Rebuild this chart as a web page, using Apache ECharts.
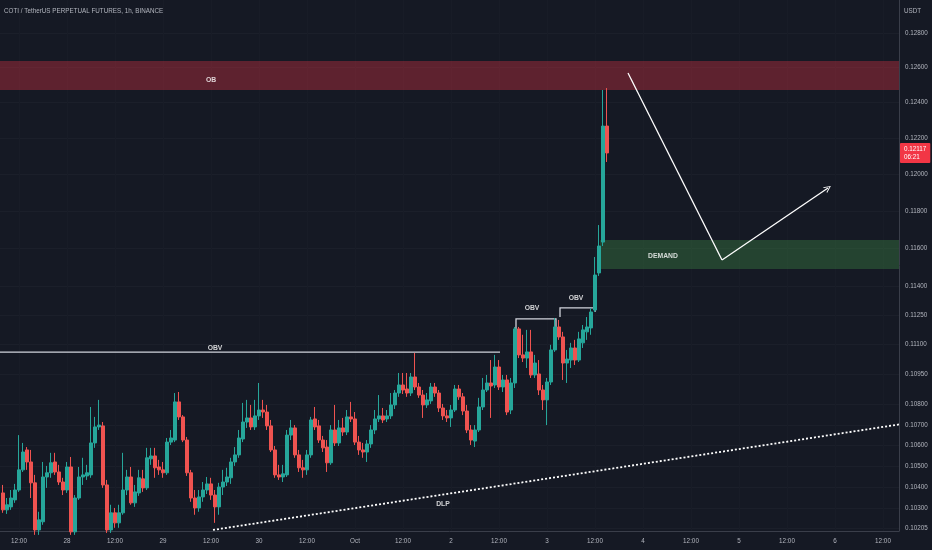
<!DOCTYPE html>
<html><head><meta charset="utf-8">
<style>html,body{margin:0;padding:0;background:#151924;}#c{width:932px;height:550px;}</style>
<script src="https://cdn.jsdelivr.net/npm/echarts@6/dist/echarts.min.js"></script>
</head><body><div id="c"></div>
<script>
const titleText = 'COTI / TetherUS PERPETUAL FUTURES, 1h, BINANCE';
const unitText = 'USDT';
const firstCandleHour = -16; // hours relative to 28 Sep 00:00 (first candle: 27 Sep 08:00)
const opens = [
0.10372,0.10292,0.10306,0.10339,0.10386,0.10482,0.10578,0.10520,0.10420,0.10198,
0.10236,0.10448,0.10468,0.10520,0.10472,0.10424,0.10386,0.10496,0.10189,0.10348,
0.10448,0.10453,0.10458,0.10612,0.10690,0.10695,0.10410,0.10198,0.10278,0.10231,
0.10278,0.10386,0.10448,0.10325,0.10372,0.10439,0.10396,0.10535,0.10549,0.10496,
0.10482,0.10468,0.10616,0.10626,0.10813,0.10739,0.10626,0.10468,0.10348,0.10301,
0.10353,0.10386,0.10415,0.10362,0.10306,0.10400,0.10424,0.10444,0.10520,0.10554,
0.10631,0.10714,0.10734,0.10690,0.10744,0.10773,0.10763,0.10695,0.10578,0.10458,
0.10448,0.10458,0.10650,0.10685,0.10554,0.10492,0.10482,0.10554,0.10729,0.10695,
0.10626,0.10592,0.10516,0.10675,0.10612,0.10685,0.10665,0.10739,0.10729,0.10616,
0.10578,0.10568,0.10607,0.10675,0.10729,0.10744,0.10729,0.10744,0.10798,0.10857,
0.10897,0.10877,0.10857,0.10937,0.10887,0.10847,0.10798,0.10818,0.10887,0.10857,
0.10783,0.10744,0.10734,0.10773,0.10877,0.10838,0.10768,0.10675,0.10621,0.10675,
0.10788,0.10872,0.10907,0.10897,0.10987,0.10887,0.10922,0.10773,0.10907,0.11180,
0.11048,0.11032,0.11063,0.10947,0.10952,0.10872,0.10823,0.10912,0.11073,0.11190,
0.11139,0.11007,0.11022,0.11083,0.11022,0.11109,0.11165,0.11185,0.11277,0.11470,
0.11633,0.12267];
const closes = [
0.10292,0.10316,0.10348,0.10386,0.10482,0.10568,0.10520,0.10420,0.10198,0.10245,
0.10448,0.10468,0.10516,0.10472,0.10424,0.10386,0.10496,0.10189,0.10348,0.10448,
0.10458,0.10468,0.10612,0.10690,0.10699,0.10410,0.10198,0.10278,0.10231,0.10278,
0.10386,0.10448,0.10325,0.10377,0.10444,0.10396,0.10540,0.10549,0.10492,0.10482,
0.10468,0.10616,0.10636,0.10813,0.10739,0.10626,0.10468,0.10348,0.10301,0.10353,
0.10386,0.10415,0.10362,0.10306,0.10400,0.10424,0.10448,0.10520,0.10554,0.10636,
0.10714,0.10734,0.10690,0.10744,0.10773,0.10763,0.10695,0.10578,0.10458,0.10448,
0.10463,0.10650,0.10685,0.10554,0.10492,0.10482,0.10554,0.10724,0.10690,0.10626,
0.10588,0.10516,0.10675,0.10612,0.10685,0.10665,0.10739,0.10729,0.10616,0.10578,
0.10568,0.10607,0.10675,0.10729,0.10744,0.10724,0.10744,0.10798,0.10857,0.10897,
0.10872,0.10857,0.10937,0.10887,0.10847,0.10798,0.10823,0.10887,0.10857,0.10783,
0.10744,0.10734,0.10773,0.10877,0.10838,0.10768,0.10675,0.10626,0.10675,0.10788,
0.10872,0.10907,0.10892,0.10987,0.10887,0.10922,0.10763,0.10907,0.11180,0.11048,
0.11032,0.11063,0.10947,0.11007,0.10872,0.10823,0.10912,0.11073,0.11190,0.11139,
0.11007,0.11027,0.11083,0.11022,0.11129,0.11175,0.11190,0.11267,0.11459,0.11612,
0.12267,0.12117];
const lows = [
0.10278,0.10273,0.10292,0.10325,0.10377,0.10472,0.10482,0.10348,0.10175,0.10175,
0.10222,0.10396,0.10444,0.10458,0.10410,0.10362,0.10372,0.10175,0.10175,0.10339,
0.10410,0.10434,0.10444,0.10588,0.10675,0.10396,0.10184,0.10184,0.10208,0.10208,
0.10269,0.10362,0.10316,0.10306,0.10358,0.10377,0.10386,0.10506,0.10444,0.10458,
0.10444,0.10458,0.10602,0.10616,0.10724,0.10616,0.10453,0.10330,0.10269,0.10283,
0.10330,0.10367,0.10339,0.10231,0.10269,0.10362,0.10405,0.10415,0.10501,0.10540,
0.10616,0.10685,0.10675,0.10675,0.10724,0.10734,0.10675,0.10568,0.10444,0.10434,
0.10424,0.10448,0.10626,0.10540,0.10472,0.10444,0.10458,0.10540,0.10675,0.10612,
0.10568,0.10472,0.10506,0.10597,0.10597,0.10646,0.10650,0.10714,0.10602,0.10554,
0.10540,0.10520,0.10588,0.10655,0.10714,0.10709,0.10714,0.10729,0.10778,0.10838,
0.10852,0.10838,0.10842,0.10872,0.10833,0.10734,0.10783,0.10803,0.10838,0.10763,
0.10724,0.10714,0.10690,0.10763,0.10823,0.10748,0.10660,0.10602,0.10592,0.10665,
0.10773,0.10862,0.10734,0.10882,0.10872,0.10862,0.10748,0.10753,0.10882,0.11032,
0.11012,0.10982,0.10932,0.10932,0.10847,0.10773,0.10699,0.10897,0.11063,0.11124,
0.10922,0.10907,0.10982,0.10997,0.11012,0.11083,0.11124,0.11150,0.11267,0.11454,
0.11612,0.12067];
const highs = [
0.10410,0.10348,0.10386,0.10415,0.10650,0.10612,0.10592,0.10578,0.10458,0.10283,
0.10520,0.10501,0.10564,0.10564,0.10506,0.10444,0.10520,0.10544,0.10362,0.10496,
0.10540,0.10506,0.10788,0.10739,0.10823,0.10714,0.10434,0.10316,0.10301,0.10316,
0.10564,0.10482,0.10496,0.10410,0.10482,0.10482,0.10588,0.10588,0.10588,0.10530,
0.10520,0.10636,0.10675,0.10857,0.10862,0.10748,0.10641,0.10482,0.10386,0.10386,
0.10424,0.10448,0.10444,0.10386,0.10420,0.10482,0.10492,0.10540,0.10592,0.10675,
0.10808,0.10823,0.10798,0.10823,0.10907,0.10823,0.10798,0.10724,0.10597,0.10506,
0.10506,0.10675,0.10724,0.10699,0.10578,0.10530,0.10578,0.10739,0.10788,0.10724,
0.10646,0.10626,0.10699,0.10798,0.10724,0.10734,0.10773,0.10813,0.10763,0.10646,
0.10612,0.10626,0.10699,0.10773,0.10847,0.10783,0.10773,0.10857,0.10872,0.10957,
0.10957,0.10957,0.10957,0.11058,0.10907,0.10872,0.10857,0.10907,0.10907,0.10872,
0.10803,0.10773,0.10798,0.10897,0.10897,0.10857,0.10798,0.10699,0.10699,0.10833,
0.10932,0.10947,0.11022,0.11048,0.11022,0.10947,0.10947,0.10932,0.11190,0.11190,
0.11150,0.11175,0.11175,0.11048,0.11022,0.10897,0.10932,0.11099,0.11236,0.11226,
0.11165,0.11073,0.11109,0.11124,0.11165,0.11200,0.11241,0.11287,0.11554,0.11724,
0.12471,0.12482];

const xTickHours = [-12,0,12,24,36,48,60,72,84,96,108,120,132,144,156,168,180,192,204];
const xTickLabels = ['12:00','28','12:00','29','12:00','30','12:00','Oct','12:00','2','12:00','3','12:00','4','12:00','5','12:00','6','12:00'];
const yTicks = [0.128,0.126,0.124,0.122,0.120,0.118,0.116,0.114,0.1125,0.111,0.1095,0.108,0.107,0.106,0.105,0.104,0.103,0.10205];
const lastPrice = 0.12117;
const countdown = '06:21';

const obZone = [0.12637, 0.12471];
const demandZone = [133.25, 208, 0.11644, 0.11491];
const obvLong = [[-16.75, 0.11062], [108.25, 0.11062]];
const obvBracket1 = [[112.25, 0.11180], [112.25, 0.11231], [122.25, 0.11231], [122.25, 0.11190]];
const obvBracket2 = [[123.25, 0.11241], [123.25, 0.11288], [132, 0.11288], [132, 0.11267]];
const arrowDown = [[140.25, 0.12568], [163.75, 0.11538]];
const arrowUp = [[163.75, 0.11538], [190.25, 0.11924]];
const dlpLine = [[36.5, 0.10198], [208, 0.10702]];
const textNames = ['OB', 'OBV', 'OBV', 'OBV', 'DEMAND', 'DLP'];
const textHours = [36, 37, 116.25, 127.25, 149, 94];
const textPrices = [0.12528, 0.11083, 0.11288, 0.11339, 0.11559, 0.10320];

const UP = '#26a69a', DOWN = '#ef5350', TXT = '#b2b5be', GRID = '#1b1f2a', VGRID = '#181c27';
const FONT = '"Liberation Sans", Arial, sans-serif';
const FS = 6.3;
const CHEVRON = 'path://M0,10 L5,0 L10,10 L8.6,10 L5,2.6 L1.4,10 Z';

const candleData = opens.map((o, i) => [firstCandleHour + i, o, closes[i], lows[i], highs[i]]);
const textData = textNames.map((n, i) => ({ name: n, value: [textHours[i], textPrices[i]] }));

const chart = echarts.init(document.getElementById('c'), null, { renderer: 'canvas' });
chart.setOption({
  backgroundColor: '#151924',
  animation: false,
  title: [
    { text: titleText, left: 4, top: 8, padding: 0, textStyle: { color: TXT, fontSize: FS, fontWeight: 'normal', fontFamily: FONT } },
    { text: unitText, left: 904, top: 8, padding: 0, textStyle: { color: TXT, fontSize: FS, fontWeight: 'normal', fontFamily: FONT } }
  ],
  grid: { left: 0, right: 33, top: 0, bottom: 19, containLabel: false },
  xAxis: {
    type: 'value', min: -16.75, max: 208,
    axisLine: { show: true, onZero: false, lineStyle: { color: '#3a3e4a', width: 1 } },
    axisTick: { show: false, customValues: xTickHours },
    axisLabel: { customValues: xTickHours, color: TXT, fontSize: FS, fontFamily: FONT, margin: 7,
      formatter: v => xTickLabels[xTickHours.indexOf(v)] || '' },
    splitLine: { show: true, lineStyle: { color: VGRID, width: 1 } }
  },
  yAxis: {
    type: 'log', logBase: 10, position: 'right', min: 0.10193, max: 0.12995,
    axisLine: { show: true, onZero: false, lineStyle: { color: '#3a3e4a', width: 1 } },
    axisTick: { show: false, customValues: yTicks },
    axisLabel: { customValues: yTicks, color: TXT, fontSize: FS, fontFamily: FONT, margin: 6,
      formatter: v => v.toFixed(5) },
    splitLine: { show: true, lineStyle: { color: GRID, width: 1 } }
  },
  series: [
    {
      type: 'candlestick', data: candleData, barWidth: 3, clip: true,
      itemStyle: { color: UP, color0: DOWN, borderColor: UP, borderColor0: DOWN, borderWidth: 1 },
      markArea: {
        silent: true,
        data: [
          [{ yAxis: obZone[0], itemStyle: { color: 'rgba(242,54,69,0.33)' } }, { yAxis: obZone[1] }],
          [{ xAxis: demandZone[0], yAxis: demandZone[2], itemStyle: { color: 'rgba(76,175,80,0.28)' } }, { xAxis: demandZone[1], yAxis: demandZone[3] }]
        ]
      },
      markLine: {
        silent: true, symbol: 'none', precision: 5,
        lineStyle: { color: 'rgba(0,0,0,0)', width: 0 },
        label: { show: true, position: 'end', distance: 1, formatter: lastPrice.toFixed(5) + '\n' + countdown,
          backgroundColor: '#f23645', color: '#ffffff', fontSize: FS, fontFamily: FONT, lineHeight: 8,
          padding: [2, 4, 2, 4], borderRadius: 1 },
        data: [{ yAxis: lastPrice }]
      }
    },
    {
      type: 'lines', coordinateSystem: 'cartesian2d', polyline: true, silent: true,
      lineStyle: { color: '#d1d4dc', width: 1.3, opacity: 1 },
      data: [{ coords: obvLong }, { coords: obvBracket1 }, { coords: obvBracket2 }]
    },
    {
      type: 'lines', coordinateSystem: 'cartesian2d', silent: true,
      symbol: ['none', 'none'],
      lineStyle: { color: '#ffffff', width: 1.3, opacity: 1 },
      data: [{ coords: arrowDown }]
    },
    {
      type: 'lines', coordinateSystem: 'cartesian2d', silent: true,
      symbol: ['none', CHEVRON], symbolSize: [11, 7],
      lineStyle: { color: '#ffffff', width: 1.3, opacity: 1 },
      data: [{ coords: arrowUp }]
    },
    {
      type: 'lines', coordinateSystem: 'cartesian2d', polyline: true, silent: true,
      lineStyle: { color: '#ffffff', width: 1.8, type: [2, 2], opacity: 1 },
      data: [{ coords: dlpLine }]
    },
    {
      type: 'scatter', data: textData, symbolSize: 1, silent: true,
      itemStyle: { color: 'rgba(0,0,0,0)' },
      label: { show: true, position: 'inside', formatter: '{b}', color: '#ffffff', fontSize: 6.8,
        fontWeight: 'bold', fontFamily: FONT }
    }
  ]
});
</script>
</body></html>
